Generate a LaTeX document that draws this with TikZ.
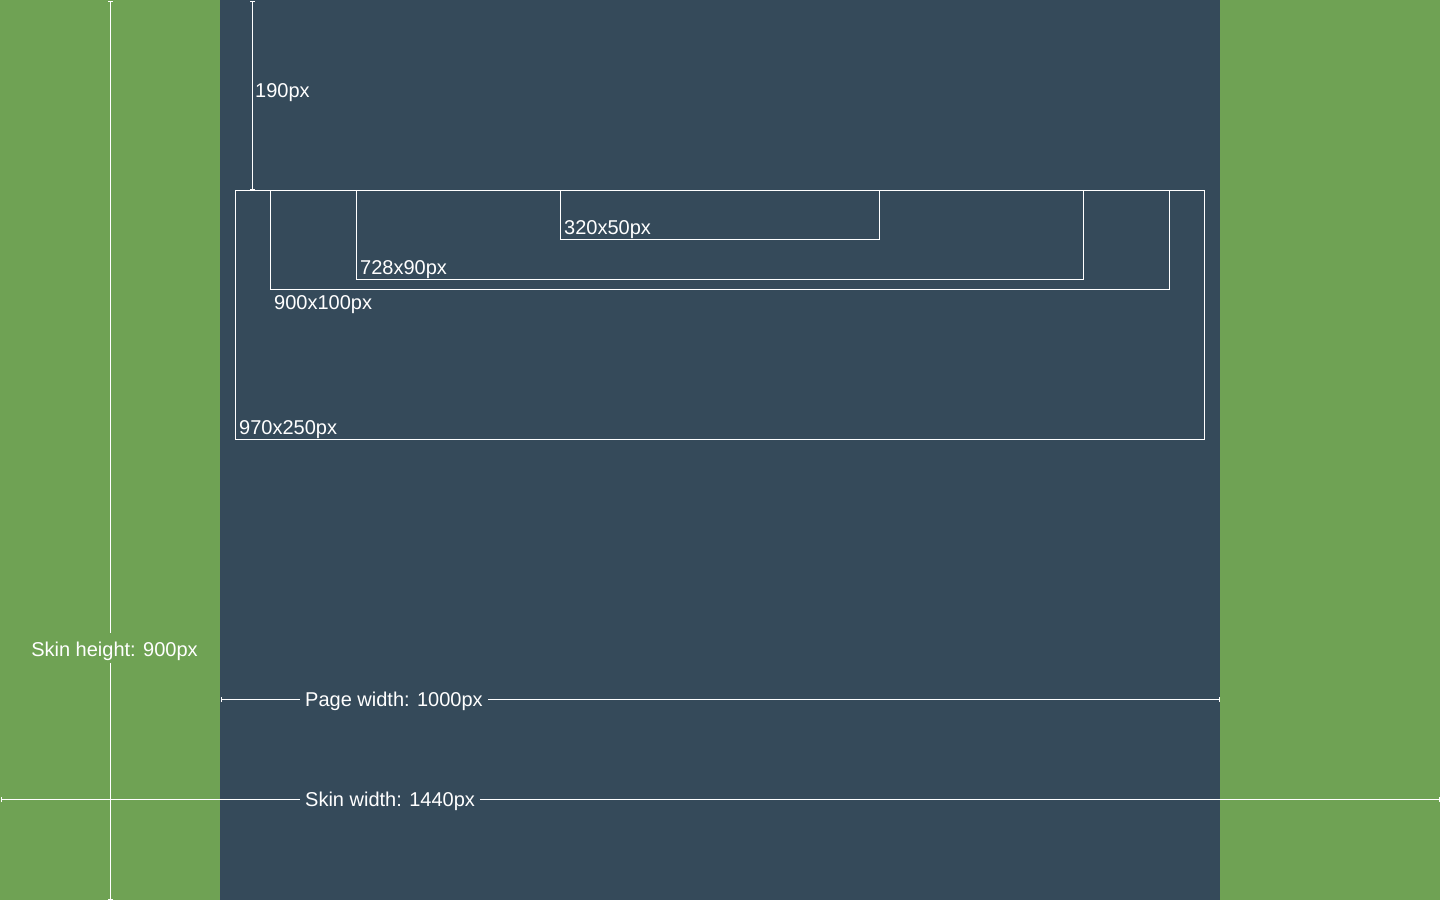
\documentclass[tikz,border=0pt]{standalone}
\usepackage{fontspec}
\setmainfont{Liberation Sans}
\usetikzlibrary{arrows.meta}
\definecolor{skingreen}{RGB}{111,162,84}
\definecolor{pageblue}{RGB}{53,74,90}
\begin{document}
\begin{tikzpicture}[x=1pt,y=-1pt,
  adbox/.style={draw=white,line width=1pt,anchor=north west,inner sep=0pt,outer sep=0pt},
  lbl/.style={text=white,font=\fontsize{20}{24}\selectfont,inner sep=0pt,anchor=base west},
  dim/.style={draw=white,line width=1pt},
  dimstart/.style={dim,{Bar[width=5pt,line width=1pt]}-},
  dimend/.style={dim,-{Bar[width=5pt,line width=1pt]}},
  dimboth/.style={dim,{Bar[width=5pt,line width=1pt]}-{Bar[width=5pt,line width=1pt]}}]
\useasboundingbox (0,0) rectangle (1440,900);
% backgrounds
\fill[skingreen] (0,0) rectangle (1440,900);
\fill[pageblue] (220,0) rectangle (1220,900);
% ad boxes
\node[adbox,minimum width=969pt,minimum height=249pt] (b970) at (235.5,190.5) {};
\node[adbox,minimum width=899pt,minimum height=99pt] (b900) at (270.5,190.5) {};
\node[adbox,minimum width=727pt,minimum height=89pt] (b728) at (356.5,190.5) {};
\node[adbox,minimum width=319pt,minimum height=49pt] (b320) at (560.5,190.5) {};
% box labels
\node[lbl] (l970) at (239,434) {970x250px};
\node[lbl] (l900) at (274,309) {900x100px};
\node[lbl] (l728) at (360,274) {728x90px};
\node[lbl] (l320) at (564,234) {320x50px};
% 190px offset
\coordinate (topT) at (252.5,0.5);
\coordinate (topB) at (252.5,190);
\draw[dimboth] (topT) -- (topB);
\node[lbl] (l190) at (255,97) {190px};
% skin height
\coordinate (shT) at (110.5,0.5);
\coordinate (shB) at (110.5,899.5);
\node[lbl,anchor=base,fill=skingreen,inner xsep=2pt,inner ysep=0pt,text height=23pt,text depth=7pt] (lsh) at (114.5,656) {Skin height: 900px};
\draw[dimstart] (shT) -- (shT |- lsh.north);
\draw[dimend] (shB |- lsh.south) -- (shB);
% page width
\coordinate (pwL) at (220.5,699.5);
\coordinate (pwR) at (1219.5,699.5);
\node[lbl,fill=pageblue,inner xsep=5pt,text height=16pt,text depth=6pt] (lpw) at (300,706) {Page width: 1000px};
\draw[dimstart] (pwL) -- (pwL -| lpw.west);
\draw[dimend] (pwR -| lpw.east) -- (pwR);
% skin width
\coordinate (swL) at (0.5,799.5);
\coordinate (swR) at (1439.5,799.5);
\node[lbl,fill=pageblue,inner xsep=5pt,text height=16pt,text depth=6pt] (lsw) at (300,806) {Skin width: 1440px};
\draw[dimstart] (swL) -- (swL -| lsw.west);
\draw[dimend] (swR -| lsw.east) -- (swR);
\end{tikzpicture}
\end{document}
